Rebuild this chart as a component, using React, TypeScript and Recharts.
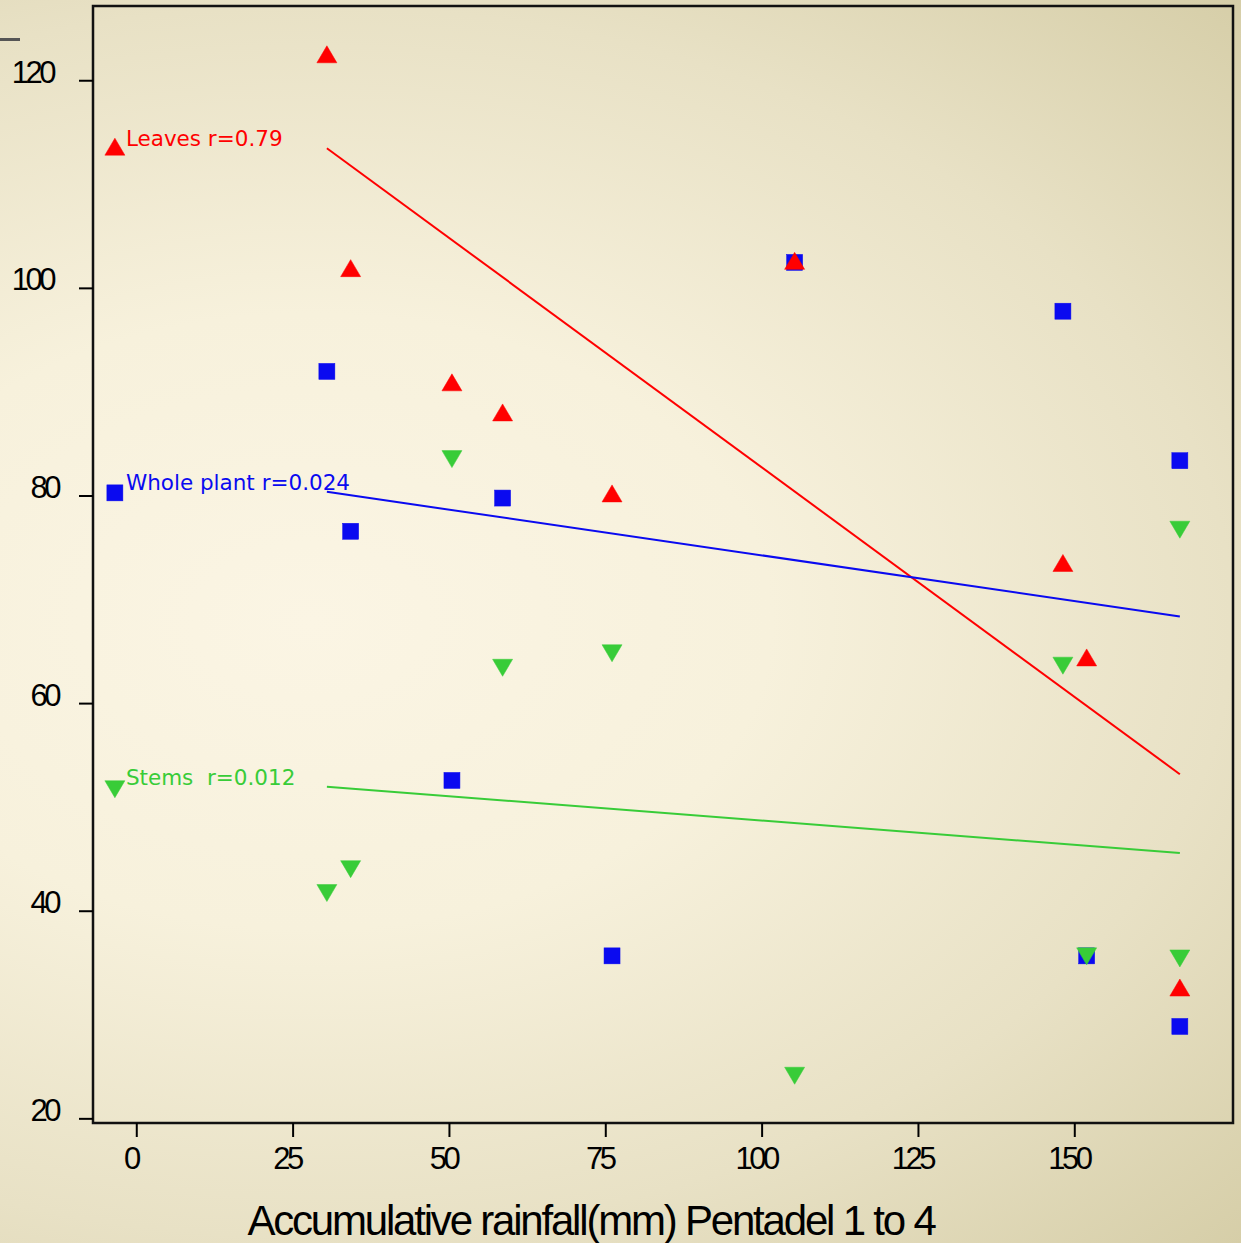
import React from "react";
import { ScatterChart, Scatter, XAxis, YAxis, ReferenceArea } from "recharts";

// ---- data ----
const rainfallLeaves = [30.4, 34.2, 50.4, 58.5, 76.0, 105.2, 148.1, 151.9, 166.8];
const leavesValues = [122.5, 101.9, 90.9, 88.0, 80.2, 102.6, 73.5, 64.4, 32.6];

const rainfallPlant = [30.4, 34.2, 50.4, 58.5, 76.0, 105.2, 148.1, 151.9, 166.8, 166.8];
const wholePlantValues = [92.0, 76.6, 52.6, 79.8, 35.7, 102.5, 97.8, 35.7, 83.4, 28.9];

const rainfallStems = [30.4, 34.2, 50.4, 58.5, 76.0, 105.2, 148.1, 151.9, 166.8, 166.8];
const stemsValues = [41.8, 44.1, 83.6, 63.5, 64.9, 24.2, 63.7, 35.7, 76.8, 35.5];

// regression line endpoints
const fitX = [30.4, 166.8];
const leavesFit = [113.5, 53.2];
const plantFit = [80.4, 68.4];
const stemsFit = [52.0, 45.6];

// in-plot legend entries
const legendX = -3.5;
const legendLabels = ["Leaves r=0.79", "Whole plant r=0.024", "Stems  r=0.012"];
const legendY = [113.6, 80.3, 51.8];

const xTicks = [0, 25, 50, 75, 100, 125, 150];
const yTicks = [20, 40, 60, 80, 100, 120];
const xDomain = [-7, 175.3];
const yDomain = [19.6, 127.2];
const xLabel = "Accumulative rainfall(mm) Pentadel 1 to 4";

const RED = "#ff0000";
const BLUE = "#0a0af0";
const GREEN = "#38cc38";

const zip = (xs: number[], ys: number[]) => xs.map((x, i) => ({ x, y: ys[i] }));

const leavesData = zip(rainfallLeaves, leavesValues);
const plantData = zip(rainfallPlant, wholePlantValues);
const stemsData = zip(rainfallStems, stemsValues);
const leavesLine = zip(fitX, leavesFit);
const plantLine = zip(fitX, plantFit);
const stemsLine = zip(fitX, stemsFit);

const FONT = "'Liberation Sans', Arial, sans-serif";

const UpTri = (color: string) => (p: any) => {
  const { cx, cy } = p;
  if (cx == null || cy == null) return <g />;
  return (
    <polygon
      points={`${cx},${cy - 9} ${cx + 10},${cy + 8} ${cx - 10},${cy + 8}`}
      fill={color}
      stroke={color}
      strokeWidth={0.5}
    />
  );
};
const DownTri = (color: string) => (p: any) => {
  const { cx, cy } = p;
  if (cx == null || cy == null) return <g />;
  return (
    <polygon
      points={`${cx - 10},${cy - 8} ${cx + 10},${cy - 8} ${cx},${cy + 9}`}
      fill={color}
      stroke={color}
      strokeWidth={0.5}
    />
  );
};
const Square = (color: string) => (p: any) => {
  const { cx, cy } = p;
  if (cx == null || cy == null) return <g />;
  return <rect x={cx - 8} y={cy - 8} width={16} height={16} fill={color} stroke={color} strokeWidth={0.5} />;
};
const NoShape = () => <g />;

const LegendShape = (color: string, label: string, kind: "up" | "sq" | "down") => (p: any) => {
  const { cx, cy } = p;
  if (cx == null || cy == null) return <g />;
  const marker = kind === "up" ? UpTri(color)(p) : kind === "sq" ? Square(color)(p) : DownTri(color)(p);
  const dy = kind === "up" ? -1 : kind === "sq" ? -3 : -4;
  return (
    <g>
      {marker}
      <text
        x={cx + 11}
        y={cy + dy}
        fill={color}
        fontSize={21.5}
        fontFamily="'DejaVu Sans', sans-serif"
        style={{ whiteSpace: "pre" }}
        xmlSpace="preserve"
      >
        {label}
      </text>
    </g>
  );
};

const XTick = (p: any) => {
  const { x, y, payload } = p;
  return (
    <text
      x={x - 6}
      y={y + 30}
      textAnchor="middle"
      fontSize={31}
      fontFamily={FONT}
      letterSpacing={-3.5}
      fill="#000"
    >
      {payload.value}
    </text>
  );
};

const YTick = (p: any) => {
  const { x, y, payload } = p;
  const s = String(payload.value);
  const off = s.length > 2 ? 26 : 21;
  return (
    <text
      x={x - off}
      y={y + 2}
      textAnchor="end"
      fontSize={31}
      fontFamily={FONT}
      letterSpacing={-3.5}
      fill="#000"
    >
      {s}
    </text>
  );
};

const XLabel = (p: any) => {
  const vb = p.viewBox || {};
  const cx = (vb.x || 0) + (vb.width || 0) / 2;
  return (
    <text
      x={cx - 72}
      y={1235}
      textAnchor="middle"
      fontSize={42}
      fontFamily={FONT}
      letterSpacing={-2.2}
      fill="#000"
    >
      {xLabel}
    </text>
  );
};

export default function App() {
  return (
    <div
      style={{
        position: "absolute",
        left: 0,
        top: 0,
        width: 1241,
        height: 1243,
        background:
          "radial-gradient(ellipse farthest-corner at 25% 50%, #fbf5e4 0%, #f7f1dc 35%, #e8e1c5 70%, #d6cea8 100%)",
        overflow: "hidden",
      }}
    >
      <div style={{ position: "absolute", left: 0, top: 38, width: 20, height: 3, background: "#555" }} />
      <ScatterChart
        width={1241}
        height={1243}
        margin={{ top: 6, right: 8, bottom: 60, left: 0 }}
        style={{ position: "absolute", left: 0, top: 0 }}
      >
        <XAxis
          type="number"
          dataKey="x"
          domain={xDomain}
          ticks={xTicks}
          allowDataOverflow
          height={60}
          axisLine={false}
          tickLine={{ stroke: "#000", strokeWidth: 2 }}
          tickSize={14}
          tickMargin={2}
          tick={<XTick />}
          label={<XLabel />}
        />
        <YAxis
          type="number"
          dataKey="y"
          domain={yDomain}
          ticks={yTicks}
          allowDataOverflow
          width={93}
          axisLine={false}
          tickLine={{ stroke: "#000", strokeWidth: 2 }}
          tickSize={14}
          tickMargin={0}
          tick={<YTick />}
        />
        <ReferenceArea
          x1={xDomain[0]}
          x2={xDomain[1]}
          y1={yDomain[0]}
          y2={yDomain[1]}
          fill="none"
          fillOpacity={0}
          stroke="#111"
          strokeWidth={2.5}
          ifOverflow="extendDomain"
        />
        <Scatter data={leavesLine} line={{ stroke: RED, strokeWidth: 2 }} shape={NoShape} isAnimationActive={false} />
        <Scatter data={plantLine} line={{ stroke: BLUE, strokeWidth: 2 }} shape={NoShape} isAnimationActive={false} />
        <Scatter data={stemsLine} line={{ stroke: GREEN, strokeWidth: 2 }} shape={NoShape} isAnimationActive={false} />
        <Scatter data={plantData} shape={Square(BLUE)} isAnimationActive={false} />
        <Scatter data={stemsData} shape={DownTri(GREEN)} isAnimationActive={false} />
        <Scatter data={leavesData} shape={UpTri(RED)} isAnimationActive={false} />
        <Scatter
          data={[{ x: legendX, y: legendY[0] }]}
          shape={LegendShape(RED, legendLabels[0], "up")}
          isAnimationActive={false}
        />
        <Scatter
          data={[{ x: legendX, y: legendY[1] }]}
          shape={LegendShape(BLUE, legendLabels[1], "sq")}
          isAnimationActive={false}
        />
        <Scatter
          data={[{ x: legendX, y: legendY[2] }]}
          shape={LegendShape(GREEN, legendLabels[2], "down")}
          isAnimationActive={false}
        />
      </ScatterChart>
    </div>
  );
}
